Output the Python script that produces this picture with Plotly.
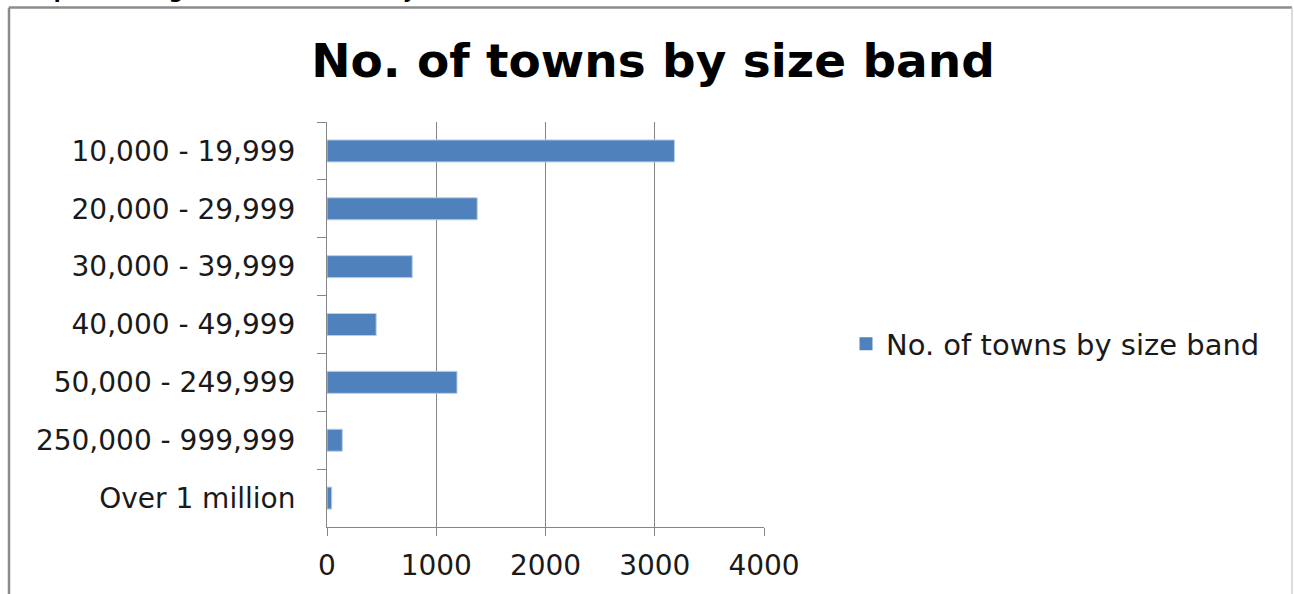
import plotly.graph_objects as go

# Town size bands (top to bottom) and number of towns in each band
size_bands = [
    "10,000 - 19,999",
    "20,000 - 29,999",
    "30,000 - 39,999",
    "40,000 - 49,999",
    "50,000 - 249,999",
    "250,000 - 999,999",
    "Over 1 million",
]
town_counts = [3180, 1375, 780, 450, 1190, 140, 43]
x_ticks = [0, 1000, 2000, 3000, 4000]

series_name = "No. of towns by size band"
chart_title = "No. of towns by size band"
caption = "Graph showing number of towns by size band"

W, H = 1294, 594
L, R, T, B = 327, 764, 122, 529  # plot area edges in pixels


def px_x(px):
    return (px - L) / (R - L)


def px_y(py):
    return (B - py) / (B - T)


FONT = "DejaVu Sans"
GRID = "#868686"
BAR = "#4F81BD"

fig = go.Figure()
fig.add_trace(
    go.Bar(
        x=town_counts,
        y=size_bands,
        orientation="h",
        name=series_name,
        marker=dict(color=BAR, line=dict(color="#B9CDE5", width=1)),
        showlegend=False,
    )
)
# Legend entry with a larger square key
fig.add_trace(
    go.Scatter(
        x=[None],
        y=[None],
        mode="markers",
        name=series_name,
        marker=dict(symbol="square", size=13, color=BAR),
        showlegend=True,
    )
)

fig.update_layout(
    width=W,
    height=H,
    margin=dict(l=L, r=W - R, t=T, b=H - B, pad=0),
    paper_bgcolor="white",
    plot_bgcolor="white",
    bargap=0.62,
    font=dict(family=FONT, size=28, color="#1a1a1a"),
    title=dict(
        text=chart_title,
        font=dict(family=FONT, size=47, color="#000000", weight="bold"),
        x=653 / W,
        xanchor="center",
        y=1 - 61 / H,
        yanchor="middle",
        xref="container",
        yref="container",
    ),
    legend=dict(
        x=px_x(846),
        y=px_y(345),
        xanchor="left",
        yanchor="middle",
        font=dict(family=FONT, size=29, color="#1a1a1a"),
        bgcolor="rgba(0,0,0,0)",
        itemwidth=30,
    ),
    xaxis=dict(
        range=[0, 4000],
        tickvals=x_ticks,
        showgrid=True,
        gridcolor=GRID,
        gridwidth=1,
        showline=True,
        linecolor=GRID,
        linewidth=1,
        ticks="outside",
        ticklen=8,
        tickcolor=GRID,
        zeroline=False,
        ticklabelstandoff=5,
        fixedrange=True,
    ),
    yaxis=dict(
        type="category",
        categoryorder="array",
        categoryarray=size_bands,
        autorange="reversed",
        showgrid=False,
        showline=True,
        linecolor=GRID,
        linewidth=1,
        ticks="outside",
        tickson="boundaries",
        ticklen=9,
        tickcolor=GRID,
        ticklabelstandoff=25,
        fixedrange=True,
    ),
)

# Chart frame (bottom edge runs off the page)
fig.add_shape(type="line", xref="paper", yref="paper",
              x0=px_x(9), x1=px_x(9), y0=px_y(7), y1=px_y(600),
              line=dict(color="#8c8c8c", width=2.5))
fig.add_shape(type="line", xref="paper", yref="paper",
              x0=px_x(9), x1=px_x(1292), y0=px_y(7), y1=px_y(7),
              line=dict(color="#8c8c8c", width=2.5))
fig.add_shape(type="line", xref="paper", yref="paper",
              x0=px_x(1292), x1=px_x(1292), y0=px_y(7), y1=px_y(600),
              line=dict(color="#d0d0d0", width=1.5))

# Caption line above the frame, mostly outside the page
fig.add_annotation(
    text=caption,
    xref="paper", yref="paper",
    x=px_x(12), y=px_y(4),
    xanchor="left", yanchor="bottom",
    showarrow=False,
    font=dict(family=FONT, size=20, color="#000000", weight="bold"),
)

fig.write_html("out.html")
